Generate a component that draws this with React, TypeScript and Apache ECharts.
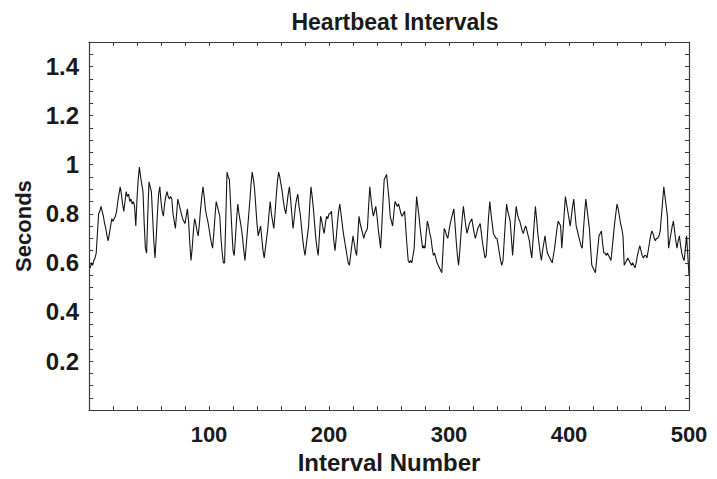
import React, { useEffect, useRef } from "react";
import * as echarts from "echarts";

const chartTitle = "Heartbeat Intervals";
const xAxisName = "Interval Number";
const yAxisName = "Seconds";
const xTickLabels = [100, 200, 300, 400, 500];
const yTickLabels = [0.2, 0.4, 0.6, 0.8, 1, 1.2, 1.4];

// seconds between successive heartbeats, interval numbers 1..500
const seconds = [
  0.58, 0.60, 0.59, 0.61, 0.62, 0.64, 0.72, 0.80, 0.81, 0.83,
  0.81, 0.79, 0.76, 0.74, 0.71, 0.69, 0.72, 0.75, 0.78, 0.77,
  0.78, 0.79, 0.81, 0.85, 0.88, 0.91, 0.88, 0.84, 0.81, 0.85,
  0.89, 0.87, 0.88, 0.85, 0.86, 0.84, 0.85, 0.83, 0.75, 0.86,
  0.94, 0.99, 0.95, 0.92, 0.89, 0.76, 0.66, 0.64, 0.80, 0.93,
  0.91, 0.89, 0.79, 0.69, 0.62, 0.70, 0.80, 0.88, 0.91, 0.85,
  0.81, 0.79, 0.84, 0.87, 0.89, 0.87, 0.86, 0.87, 0.86, 0.80,
  0.77, 0.74, 0.80, 0.86, 0.84, 0.82, 0.80, 0.78, 0.77, 0.76,
  0.79, 0.82, 0.77, 0.68, 0.61, 0.66, 0.73, 0.78, 0.76, 0.73,
  0.71, 0.76, 0.82, 0.87, 0.91, 0.87, 0.82, 0.79, 0.77, 0.74,
  0.71, 0.68, 0.66, 0.72, 0.79, 0.85, 0.83, 0.81, 0.79, 0.70,
  0.64, 0.60, 0.60, 0.78, 0.97, 0.95, 0.94, 0.84, 0.74, 0.65,
  0.63, 0.70, 0.78, 0.84, 0.80, 0.77, 0.74, 0.70, 0.65, 0.61,
  0.67, 0.73, 0.79, 0.85, 0.92, 0.97, 0.94, 0.90, 0.83, 0.76,
  0.71, 0.73, 0.75, 0.70, 0.65, 0.62, 0.66, 0.70, 0.74, 0.80,
  0.85, 0.80, 0.77, 0.74, 0.80, 0.87, 0.93, 0.97, 0.95, 0.92,
  0.89, 0.85, 0.82, 0.80, 0.84, 0.88, 0.91, 0.86, 0.80, 0.74,
  0.78, 0.83, 0.86, 0.88, 0.83, 0.80, 0.75, 0.70, 0.66, 0.63,
  0.67, 0.71, 0.75, 0.84, 0.91, 0.87, 0.82, 0.76, 0.70, 0.66,
  0.63, 0.71, 0.79, 0.77, 0.74, 0.72, 0.76, 0.79, 0.78, 0.80,
  0.80, 0.81, 0.75, 0.69, 0.65, 0.70, 0.76, 0.81, 0.84, 0.80,
  0.76, 0.72, 0.69, 0.66, 0.63, 0.60, 0.59, 0.63, 0.67, 0.71,
  0.68, 0.65, 0.63, 0.71, 0.79, 0.76, 0.74, 0.72, 0.70, 0.72,
  0.73, 0.74, 0.83, 0.91, 0.86, 0.82, 0.79, 0.81, 0.83, 0.79,
  0.74, 0.70, 0.66, 0.75, 0.85, 0.94, 0.95, 0.96, 0.91, 0.86,
  0.79, 0.77, 0.75, 0.80, 0.85, 0.84, 0.83, 0.84, 0.82, 0.80,
  0.79, 0.80, 0.81, 0.74, 0.67, 0.61, 0.60, 0.61, 0.60, 0.63,
  0.66, 0.77, 0.87, 0.83, 0.79, 0.74, 0.70, 0.66, 0.67, 0.66,
  0.72, 0.77, 0.75, 0.72, 0.70, 0.66, 0.63, 0.64, 0.62, 0.60,
  0.59, 0.58, 0.57, 0.56, 0.65, 0.74, 0.73, 0.71, 0.70, 0.73,
  0.76, 0.78, 0.80, 0.82, 0.76, 0.69, 0.63, 0.59, 0.65, 0.72,
  0.78, 0.83, 0.79, 0.75, 0.72, 0.74, 0.76, 0.77, 0.78, 0.75,
  0.72, 0.70, 0.72, 0.74, 0.75, 0.76, 0.72, 0.68, 0.65, 0.62,
  0.63, 0.71, 0.79, 0.85, 0.80, 0.76, 0.72, 0.71, 0.70, 0.70,
  0.67, 0.64, 0.61, 0.59, 0.61, 0.69, 0.77, 0.84, 0.81, 0.79,
  0.77, 0.70, 0.63, 0.70, 0.77, 0.83, 0.80, 0.78, 0.77, 0.75,
  0.73, 0.72, 0.74, 0.75, 0.73, 0.71, 0.69, 0.65, 0.62, 0.69,
  0.76, 0.83, 0.78, 0.72, 0.68, 0.64, 0.61, 0.65, 0.68, 0.71,
  0.67, 0.64, 0.63, 0.62, 0.61, 0.60, 0.63, 0.66, 0.70, 0.74,
  0.77, 0.76, 0.75, 0.66, 0.73, 0.80, 0.87, 0.84, 0.81, 0.78,
  0.75, 0.79, 0.83, 0.86, 0.80, 0.75, 0.73, 0.71, 0.69, 0.67,
  0.66, 0.73, 0.80, 0.86, 0.82, 0.78, 0.74, 0.66, 0.59, 0.58,
  0.57, 0.56, 0.61, 0.66, 0.71, 0.72, 0.73, 0.68, 0.64, 0.64,
  0.63, 0.64, 0.63, 0.62, 0.61, 0.66, 0.71, 0.76, 0.80, 0.84,
  0.82, 0.79, 0.76, 0.74, 0.71, 0.59, 0.60, 0.61, 0.62, 0.61,
  0.60, 0.59, 0.60, 0.59, 0.58, 0.60, 0.63, 0.65, 0.67, 0.65,
  0.63, 0.62, 0.63, 0.63, 0.62, 0.65, 0.68, 0.71, 0.73, 0.72,
  0.70, 0.69, 0.70, 0.70, 0.71, 0.73, 0.79, 0.85, 0.91, 0.87,
  0.83, 0.79, 0.66, 0.69, 0.72, 0.75, 0.77, 0.73, 0.69, 0.66,
  0.69, 0.71, 0.67, 0.64, 0.62, 0.61, 0.66, 0.71, 0.63, 0.55,
];

const intervalNumbers = seconds.map((_, i) => i + 1);

const FONT = "'Liberation Sans', Arial, Helvetica, sans-serif";
const FRAME = "#3a3a3a";
const TEXT = "#1a1a1a";

export default function App() {
  const ref = useRef<HTMLDivElement>(null);

  useEffect(() => {
    if (!ref.current) return;
    const chart = echarts.init(ref.current, undefined, { renderer: "svg" });

    const near = (v: number, list: number[]) =>
      list.some((t) => Math.abs(t - v) < 1e-6);

    const commonTick = {
      show: true,
      inside: true,
      length: 4,
      lineStyle: { color: FRAME, width: 1 },
    };
    const line = { show: true, onZero: false, lineStyle: { color: FRAME, width: 1.2 } };

    chart.setOption({
      animation: false,
      backgroundColor: "#ffffff",
      title: {
        text: chartTitle,
        left: 390,
        textAlign: "center",
        top: 5,
        textStyle: {
          fontFamily: FONT,
          fontWeight: "bold",
          fontSize: 23,
          color: TEXT,
        },
      },
      grid: { left: 89, right: 28, top: 42, bottom: 66, containLabel: false },
      xAxis: [
        {
          type: "value",
          min: 0,
          max: 500,
          interval: 20,
          position: "bottom",
          name: xAxisName,
          nameLocation: "middle",
          nameGap: 39,
          nameTextStyle: {
            fontFamily: FONT,
            fontWeight: "bold",
            fontSize: 24,
            color: TEXT,
          },
          axisLine: line,
          axisTick: commonTick,
          splitLine: { show: false },
          axisLabel: {
            margin: 13,
            fontFamily: FONT,
            fontWeight: "bold",
            fontSize: 22,
            color: TEXT,
            showMinLabel: true,
            showMaxLabel: true,
            formatter: (v: number) => (near(v, xTickLabels) ? String(v) : ""),
          },
        },
        {
          type: "value",
          min: 0,
          max: 500,
          interval: 20,
          position: "top",
          axisLine: line,
          axisTick: commonTick,
          splitLine: { show: false },
          axisLabel: { show: false },
        },
      ],
      yAxis: [
        {
          type: "value",
          min: 0,
          max: 1.5,
          interval: 0.05,
          position: "left",
          name: yAxisName,
          nameLocation: "middle",
          nameGap: 52,
          nameRotate: 90,
          nameTextStyle: {
            fontFamily: FONT,
            fontWeight: "bold",
            fontSize: 22,
            color: TEXT,
          },
          axisLine: line,
          axisTick: commonTick,
          splitLine: { show: false },
          axisLabel: {
            margin: 10,
            fontFamily: FONT,
            fontWeight: "bold",
            fontSize: 24,
            color: TEXT,
            formatter: (v: number) =>
              near(v, yTickLabels) ? String(Math.round(v * 10) / 10) : "",
          },
        },
        {
          type: "value",
          min: 0,
          max: 1.5,
          interval: 0.05,
          position: "right",
          axisLine: line,
          axisTick: commonTick,
          splitLine: { show: false },
          axisLabel: { show: false },
        },
      ],
      series: [
        {
          type: "line",
          xAxisIndex: 0,
          yAxisIndex: 0,
          data: intervalNumbers.map((n, i) => [n, seconds[i]]),
          showSymbol: false,
          symbol: "none",
          lineStyle: { color: "#151515", width: 1.1 },
          silent: true,
        },
      ],
    });

    return () => chart.dispose();
  }, []);

  return (
    <div
      ref={ref}
      style={{ position: "fixed", left: 0, top: 0, width: 717, height: 479 }}
    />
  );
}
